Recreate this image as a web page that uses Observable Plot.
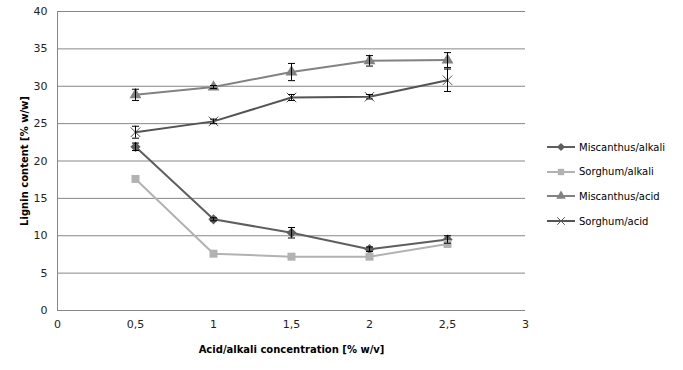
<!DOCTYPE html>
<html>
<head>
<meta charset="utf-8">
<script src="https://cdn.jsdelivr.net/npm/d3@7"></script>
<script src="https://cdn.jsdelivr.net/npm/@observablehq/plot@0.6"></script>
<style>
  html, body { margin: 0; padding: 0; background: #fff; }
  #wrap { position: relative; width: 683px; height: 370px; font-family: "DejaVu Sans", Verdana, sans-serif; }
  #legend { position: absolute; left: 546px; top: 135px; font-size: 10px; color: #000; }
  #legend .item { display: flex; align-items: center; height: 24.6px; }
  #legend svg { margin-right: 3px; }
</style>
</head>
<body>
<div id="wrap"><div id="legend"></div></div>
<script>
const concentrations = [0.5, 1, 1.5, 2, 2.5];
const seriesNames = ["Miscanthus/alkali", "Sorghum/alkali", "Miscanthus/acid", "Sorghum/acid"];
const miscanthusAlkali = [21.9, 12.2, 10.4, 8.2, 9.5];
const miscanthusAlkaliErr = [0.5, 0.2, 0.7, 0.3, 0.5];
const sorghumAlkali = [17.6, 7.6, 7.2, 7.2, 8.9];
const sorghumAlkaliErr = [0, 0, 0, 0, 0];
const miscanthusAcid = [28.85, 29.9, 31.9, 33.4, 33.5];
const miscanthusAcidErr = [0.75, 0.2, 1.15, 0.7, 1.0];
const sorghumAcid = [23.85, 25.3, 28.5, 28.6, 30.8];
const sorghumAcidErr = [0.8, 0.3, 0.4, 0.3, 1.5];
const xTicks = [0, 0.5, 1, 1.5, 2, 2.5, 3];
const yTicks = [0, 5, 10, 15, 20, 25, 30, 35, 40];

const colors = ["#5e5e5e", "#b2b2b2", "#828282", "#545454"];
const symbols = ["diamond2", "square", "triangle", "times"];
const radii = [4.6, 4.5, 4.4, 4.4];

const values = [miscanthusAlkali, sorghumAlkali, miscanthusAcid, sorghumAcid];
const errs = [miscanthusAlkaliErr, sorghumAlkaliErr, miscanthusAcidErr, sorghumAcidErr];
const data = [];
seriesNames.forEach((s, i) => {
  concentrations.forEach((c, j) => {
    data.push({series: s, x: c, y: values[i][j], lo: values[i][j] - errs[i][j], hi: values[i][j] + errs[i][j], err: errs[i][j]});
  });
});
const errData = data.filter(d => d.err > 0);

const cap = {
  draw(context, size) {
    const w = 3.5;
    context.moveTo(-w, 0);
    context.lineTo(w, 0);
  }
};

const fmt = d => String(d).replace(".", ",");

const marks = [
  Plot.ruleY(yTicks, {stroke: "#878787", strokeWidth: 1}),
  Plot.ruleX([0], {stroke: "#878787", strokeWidth: 1}),
  Plot.axisY({ticks: yTicks, tickSize: 0, tickPadding: 10, fontSize: 11, label: null, fill: "#222"}),
  Plot.axisX({ticks: xTicks, tickSize: 0, tickPadding: 10, fontSize: 11, tickFormat: fmt, label: null, fill: "#222"}),
  Plot.axisY({ticks: [], label: "Lignin content [% w/w]", labelAnchor: "center", labelArrow: "none", labelOffset: 37, fontSize: 10, fontWeight: "bold", tickSize: 0}),
  Plot.axisX({ticks: [], label: "Acid/alkali concentration [% w/v]", labelAnchor: "center", labelArrow: "none", labelOffset: 42, fontSize: 10, fontWeight: "bold", tickSize: 0})
];
seriesNames.forEach((s, i) => {
  const sd = data.filter(d => d.series === s);
  marks.push(Plot.line(sd, {x: "x", y: "y", stroke: colors[i], strokeWidth: 2}));
});
seriesNames.forEach((s, i) => {
  const sd = data.filter(d => d.series === s);
  if (symbols[i] === "times") {
    marks.push(Plot.dot(sd, {x: "x", y: "y", symbol: "times", r: radii[i], stroke: colors[i], strokeWidth: 1}));
  } else {
    marks.push(Plot.dot(sd, {x: "x", y: "y", symbol: symbols[i], r: radii[i], fill: colors[i], stroke: "none"}));
  }
});
marks.push(Plot.ruleX(errData, {x: "x", y1: "lo", y2: "hi", stroke: "#000", strokeWidth: 1}));
marks.push(Plot.dot(errData, {x: "x", y: "lo", symbol: cap, stroke: "#000", strokeWidth: 1, r: 3}));
marks.push(Plot.dot(errData, {x: "x", y: "hi", symbol: cap, stroke: "#000", strokeWidth: 1, r: 3}));

const chart = Plot.plot({
  width: 683,
  height: 370,
  marginLeft: 57,
  marginRight: 158,
  marginTop: 11,
  marginBottom: 60,
  style: {fontFamily: '"DejaVu Sans", Verdana, sans-serif', background: "#fff", overflow: "visible"},
  x: {domain: [0, 3], axis: null},
  y: {domain: [0, 40], axis: null},
  marks
});
const wrap = document.getElementById("wrap");
wrap.insertBefore(chart, wrap.firstChild);

// Legend
const legend = d3.select("#legend");
const symMap = {diamond2: d3.symbolDiamond2, square: d3.symbolSquare, triangle: d3.symbolTriangle, times: d3.symbolTimes};
seriesNames.forEach((s, i) => {
  const item = legend.append("div").attr("class", "item");
  const svg = item.append("svg").attr("width", 30).attr("height", 12);
  svg.append("line").attr("x1", 1).attr("x2", 29).attr("y1", 6).attr("y2", 6).attr("stroke", colors[i]).attr("stroke-width", 2);
  const size = (radii[i] * 0.8) ** 2 * Math.PI;
  const p = svg.append("path").attr("transform", "translate(15,6)").attr("d", d3.symbol(symMap[symbols[i]], size)());
  if (symbols[i] === "times") p.attr("fill", "none").attr("stroke", colors[i]).attr("stroke-width", 1);
  else p.attr("fill", colors[i]);
  item.append("span").text(s);
});
</script>
</body>
</html>
